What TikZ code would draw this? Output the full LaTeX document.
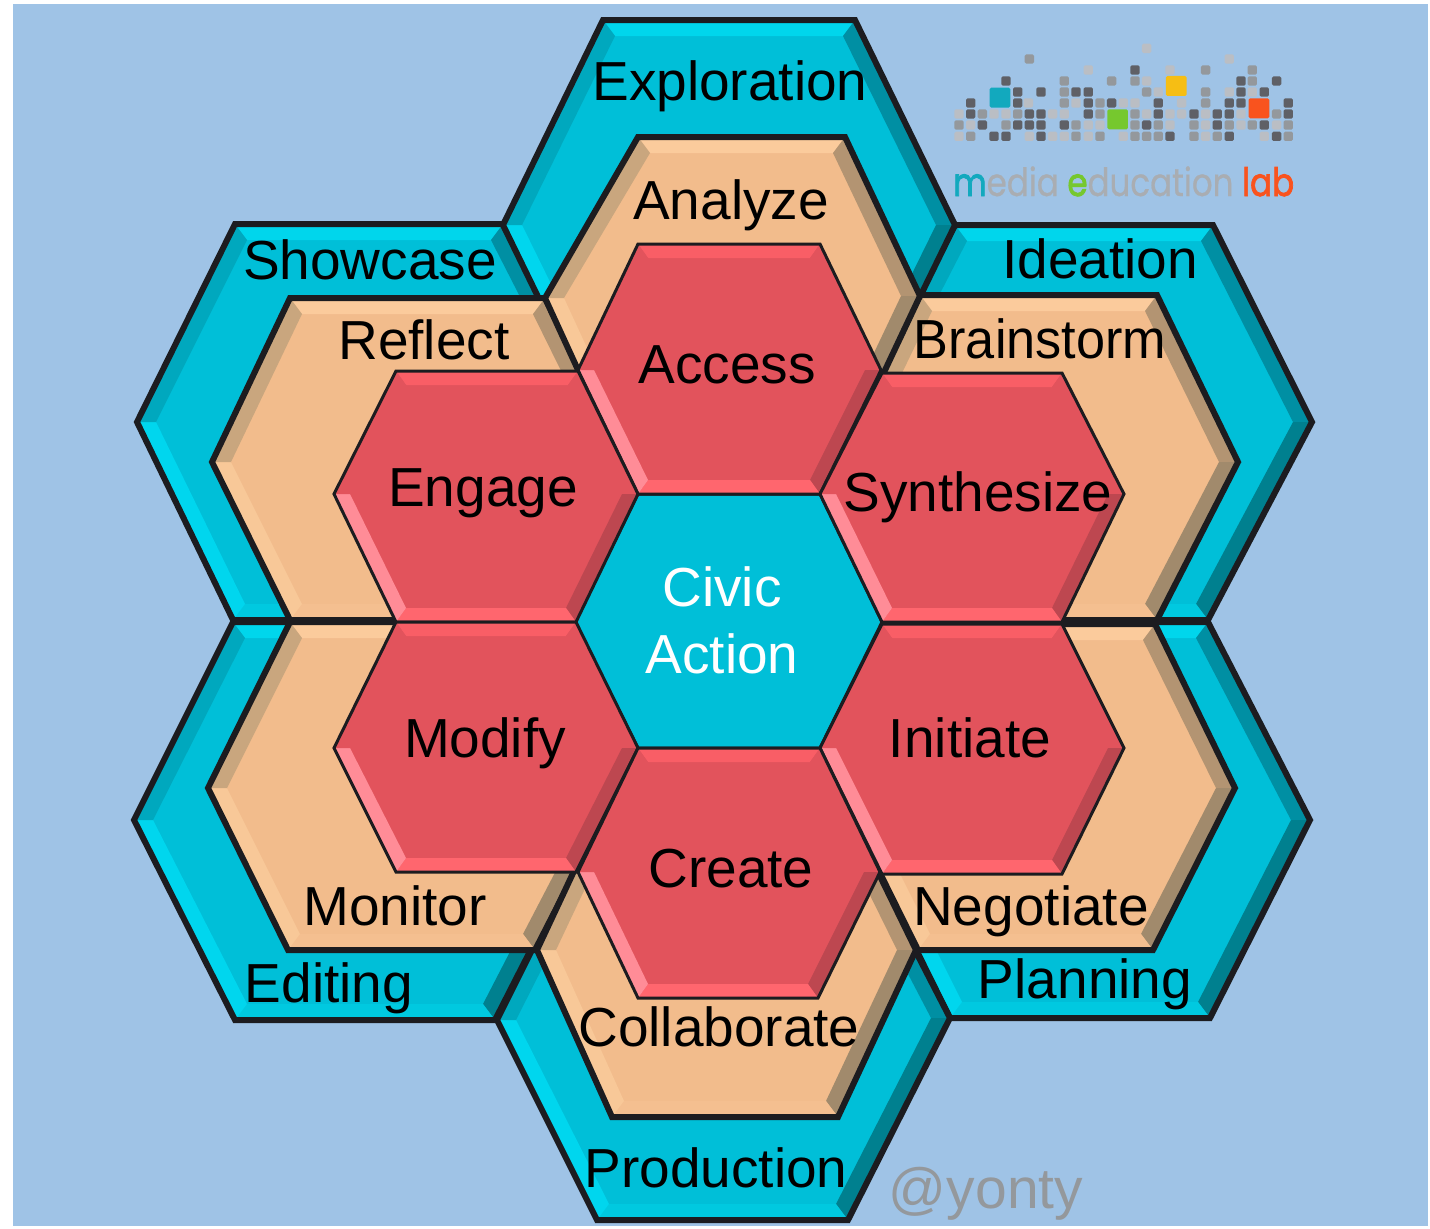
\documentclass[tikz,border=0pt]{standalone}
\usepackage{fontspec}
\usetikzlibrary{calc}
\setmainfont{Liberation Sans}
\newfontfamily\logofont[FakeBold=0.6]{Poppins}
\newfontfamily\logoheavy[FakeBold=2.2]{Poppins}
\definecolor{sky}{HTML}{9FC3E6}
\definecolor{ink}{HTML}{1C1C20}
% cyan family
\definecolor{cybase}{HTML}{00BFD8}\definecolor{cytop}{HTML}{00D6EC}\definecolor{cyur}{HTML}{008FA3}
\definecolor{cylr}{HTML}{00808F}\definecolor{cybot}{HTML}{00C9E0}\definecolor{cyll}{HTML}{00D6EE}\definecolor{cyul}{HTML}{00A8BE}
% tan family
\definecolor{tnbase}{HTML}{F2BC8C}\definecolor{tntop}{HTML}{FBCB9C}\definecolor{tnur}{HTML}{B39472}
\definecolor{tnlr}{HTML}{A18A6C}\definecolor{tnbot}{HTML}{F4BF90}\definecolor{tnll}{HTML}{F8C898}\definecolor{tnul}{HTML}{C9A67E}
% red family
\definecolor{rdbase}{HTML}{E2535C}\definecolor{rdtop}{HTML}{F95E66}\definecolor{rdur}{HTML}{E2535C}
\definecolor{rdlr}{HTML}{BD4750}\definecolor{rdbot}{HTML}{FF666E}\definecolor{rdll}{HTML}{FF8C97}\definecolor{rdul}{HTML}{E2535C}
% centre, flat
\definecolor{cvbase}{HTML}{00BFD8}\colorlet{cvtop}{cvbase}\colorlet{cvur}{cvbase}\colorlet{cvlr}{cvbase}\colorlet{cvbot}{cvbase}\colorlet{cvll}{cvbase}\colorlet{cvul}{cvbase}
% logo
\definecolor{lgd}{HTML}{5F6066}\definecolor{lgm}{HTML}{94989C}\definecolor{lgl}{HTML}{BABEC4}
\definecolor{lgcy}{HTML}{12A9BE}\definecolor{lgye}{HTML}{F6BE14}\definecolor{lggr}{HTML}{76C82E}\definecolor{lgor}{HTML}{F9531E}
\definecolor{lgtx}{HTML}{A9ADB2}
\tikzset{
  lbl/.style={font=\fontsize{55}{67}\selectfont,anchor=base,inner sep=0pt,text=black},
  hexline/.style={draw=ink,line width=#1,line join=miter,miter limit=6},
}
\def\bx{12}\def\by{16}\def\bs{19}
% name, TL, TR, R, BR, BL, L, colour family, outline width
\newcommand\hexcell[9]{%
  \coordinate (#1a) at (#2);\coordinate (#1b) at (#3);\coordinate (#1c) at (#4);
  \coordinate (#1d) at (#5);\coordinate (#1e) at (#6);\coordinate (#1f) at (#7);
  \coordinate (#1A) at ($(#1a)+(\bx,\by)$);\coordinate (#1B) at ($(#1b)+(-\bx,\by)$);
  \coordinate (#1C) at ($(#1c)+(-\bs,0)$);\coordinate (#1D) at ($(#1d)+(-\bx,-\by)$);
  \coordinate (#1E) at ($(#1e)+(\bx,-\by)$);\coordinate (#1F) at ($(#1f)+(\bs,0)$);
  \fill[#8base] (#1a)--(#1b)--(#1c)--(#1d)--(#1e)--(#1f)--cycle;
  \fill[#8top] (#1a)--(#1b)--(#1B)--(#1A)--cycle;
  \fill[#8ur] (#1b)--(#1c)--(#1C)--(#1B)--cycle;
  \fill[#8lr] (#1c)--(#1d)--(#1D)--(#1C)--cycle;
  \fill[#8bot] (#1d)--(#1e)--(#1E)--(#1D)--cycle;
  \fill[#8ll] (#1e)--(#1f)--(#1F)--(#1E)--cycle;
  \fill[#8ul] (#1f)--(#1a)--(#1A)--(#1F)--cycle;
  \draw[hexline=#9] (#1a)--(#1b)--(#1c)--(#1d)--(#1e)--(#1f)--cycle;
}
% logo row: zoomed y, list of zoomed x/shade
\newcommand\logorow[2]{%
  \foreach \px/\sh in {#2}{\fill[\sh,rounded corners=1.5pt] (\px-14,#1-14) rectangle (\px+14,#1+14);}
}
\begin{document}
\begin{tikzpicture}[x=1pt,y=-1pt]
\useasboundingbox (0,0) rectangle (1430,1229);
\fill[white] (0,0) rectangle (1430,1229);
\fill[sky] (13,4) rectangle (1428,1226);
% outer ring
\hexcell{idea}{955,225}{1213,225}{1312,422}{1208,620}{950,620}{855,422}{cy}{6pt}
\hexcell{show}{235,224}{503,224}{603,422}{503,620}{233,620}{137,422}{cy}{6pt}
\hexcell{expl}{603,20}{855,20}{955,225}{855,430}{603,430}{503,225}{cy}{6pt}
\hexcell{plan}{950,622}{1208,622}{1310,820}{1210,1018}{950,1018}{852,820}{cy}{6pt}
\hexcell{edit}{233,622}{495,622}{597,820}{495,1020}{235,1020}{134,820}{cy}{6pt}
\hexcell{prod}{597,820}{848,820}{950,1018}{848,1220}{597,1220}{497,1020}{cy}{6pt}
% middle ring
\hexcell{refl}{290,298}{545,298}{625,462}{545,620}{290,620}{212,462}{tn}{6pt}
\hexcell{brai}{920,295}{1157,295}{1238,462}{1157,620}{920,620}{840,462}{tn}{6pt}
\hexcell{anal}{638,137}{845,137}{920,296}{845,455}{617,455}{545,298}{tn}{6pt}
\hexcell{nego}{918,624}{1155,624}{1235,788}{1153,950}{918,950}{838,788}{tn}{6pt}
\hexcell{moni}{290,622}{536,622}{618,788}{535,950}{288,950}{208,788}{tn}{6pt}
\hexcell{coll}{612,790}{838,790}{916,950}{838,1117}{612,1117}{537,950}{tn}{6pt}
% inner ring
\def\bx{10}\def\by{14}\def\bs{16}
\hexcell{civi}{638,494}{820,494}{882,622}{820,748}{638,748}{575,622}{cv}{3pt}
\hexcell{acce}{638,244}{820,244}{881,370}{820,494}{638,494}{578,370}{rd}{3pt}
\hexcell{enga}{396,371}{578,371}{638,494}{576,622}{396,622}{334,494}{rd}{3pt}
\hexcell{synt}{882,373}{1062,373}{1124,494}{1062,622}{882,622}{820,494}{rd}{3pt}
\hexcell{modi}{396,622}{576,622}{638,748}{576,872}{396,872}{334,748}{rd}{3pt}
\hexcell{init}{882,624}{1062,624}{1124,748}{1062,874}{882,874}{820,748}{rd}{3pt}
\hexcell{crea}{638,748}{820,748}{880,872}{818,998}{638,998}{578,872}{rd}{3pt}
% labels
\node[lbl] (tExpl) at (730,100) {Exploration};
\node[lbl] (tAnal) at (731,219) {Analyze};
\node[lbl] (tShow) at (370,279) {Showcase};
\node[lbl] (tIdea) at (1100,278) {Ideation};
\node[lbl] (tRefl) at (424,359) {Reflect};
\node[lbl,xscale=0.95] (tBrai) at (1040,358) {Brainstorm};
\node[lbl] (tAcce) at (727,383) {Access};
\node[lbl] (tEnga) at (483,506) {Engage};
\node[lbl] (tSynt) at (978,511) {Synthesize};
\node[lbl,text=white,anchor=center,align=center] (tCivi) at (722,620) {Civic\\Action};
\node[lbl] (tModi) at (485,757) {Modify};
\node[lbl] (tInit) at (970,757) {Initiate};
\node[lbl] (tCrea) at (731,887) {Create};
\node[lbl] (tMoni) at (395,925) {Monitor};
\node[lbl] (tNego) at (1031,925) {Negotiate};
\node[lbl] (tEdit) at (329,1002) {Editing};
\node[lbl] (tPlan) at (1085,998) {Planning};
\node[lbl] (tColl) at (719,1046) {Collaborate};
\node[lbl] (tProd) at (716,1187) {Production};
\node[lbl,text=lgm,font=\fontsize{57}{60}\selectfont] (tYont) at (986,1208) {@yonty};
% logo
\begin{scope}[shift={(930,30)},x=0.3333pt,y=-0.3333pt]
\logorow{55}{650/lgl}
\logorow{87}{298/lgm,898/lgl}
\logorow{120}{475/lgl,615/lgd,720/lgl,827/lgm,967/lgm}
\logorow{153}{228/lgd,403/lgm,545/lgm,615/lgm,650/lgl,933/lgd,967/lgm,1040/lgd}
\logorow{186}{263/lgd,333/lgd,403/lgm,438/lgd,475/lgd,650/lgm,685/lgl,827/lgm,898/lgl,933/lgd,967/lgl,1003/lgd}
\logorow{219}{122/lgd,263/lgd,295/lgl,403/lgm,438/lgl,475/lgd,510/lgm,545/lgd,580/lgl,615/lgl,685/lgd,755/lgl,827/lgm,898/lgd,933/lgd,1075/lgd}
\logorow{252}{87/lgl,122/lgd,157/lgm,192/lgl,228/lgl,263/lgm,298/lgd,333/lgd,368/lgl,403/lgl,475/lgd,510/lgm,615/lgm,650/lgl,685/lgd,720/lgl,755/lgl,792/lgd,827/lgl,862/lgd,898/lgd,933/lgl,1040/lgm,1075/lgd}
\logorow{285}{87/lgm,122/lgl,157/lgd,228/lgm,263/lgd,298/lgd,333/lgd,403/lgd,438/lgm,475/lgl,510/lgl,615/lgm,650/lgd,685/lgm,720/lgl,792/lgm,827/lgl,862/lgd,898/lgm,933/lgl,967/lgm,1003/lgd,1040/lgl,1075/lgm}
\logorow{319}{87/lgl,122/lgm,192/lgd,228/lgd,298/lgl,333/lgd,368/lgl,403/lgl,438/lgm,475/lgl,510/lgm,580/lgl,615/lgm,650/lgm,685/lgm,720/lgd,792/lgm,827/lgl,862/lgm,898/lgd,1003/lgl,1040/lgd,1075/lgm}
\fill[lgcy,rounded corners=1.5pt] (179,173) rectangle (241,233);
\fill[lgye,rounded corners=1.5pt] (708,138) rectangle (770,198);
\fill[lggr,rounded corners=1.5pt] (532,238) rectangle (594,298);
\fill[lgor,rounded corners=1.5pt] (956,205) rectangle (1018,265);
\end{scope}
\node[anchor=base west,inner sep=0pt,font=\logofont\fontsize{32.5}{36}\selectfont] (tLogo) at (953,196)
  {\scalebox{1}[1.2]{{\logoheavy\textcolor{lgcy}{m}}\textcolor{lgtx}{edia} {\logoheavy\textcolor{lggr}{e}}\textcolor{lgtx}{ducation} {\logoheavy\textcolor{lgor}{lab}}}};
\end{tikzpicture}
\end{document}
